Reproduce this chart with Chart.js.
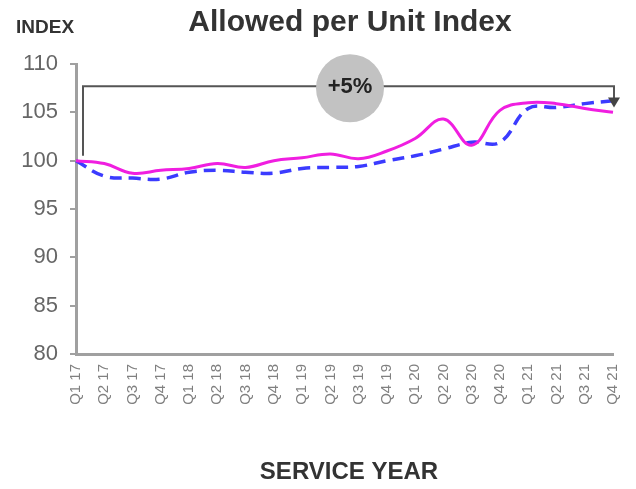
<!DOCTYPE html>
<html>
<head>
<meta charset="utf-8">
<script src="https://cdn.jsdelivr.net/npm/chart.js@4.4.0/dist/chart.umd.min.js"></script>
<style>
  body { margin: 0; background: #fff; }
  #wrap { width: 636px; height: 489px; }
</style>
</head>
<body>
<div id="wrap"><canvas id="myChart" width="636" height="489"></canvas></div>
<script>
const quarters = [
  'Q1 17', 'Q2 17', 'Q3 17', 'Q4 17',
  'Q1 18', 'Q2 18', 'Q3 18', 'Q4 18',
  'Q1 19', 'Q2 19', 'Q3 19', 'Q4 19',
  'Q1 20', 'Q2 20', 'Q3 20', 'Q4 20',
  'Q1 21', 'Q2 21', 'Q3 21', 'Q4 21'
]
const indexSolid = [100.0, 99.7, 98.7, 99.0, 99.2, 99.7, 99.3, 100.0, 100.3, 100.7,
  100.2, 101.0, 102.3, 104.3, 101.6, 105.2, 106.0, 105.9, 105.4, 105.0]
const indexDashed = [100.0, 98.4, 98.2, 98.1, 98.8, 99.0, 98.8, 98.7, 99.2, 99.3,
  99.4, 100.0, 100.5, 101.2, 101.9, 101.9, 105.4, 105.5, 105.9, 106.2]
const yTicks = [80, 85, 90, 95, 100, 105, 110]

// bracket annotation, in index units
const bracketTop = 107.7
const bracketStart = 100.5
const bracketEnd = 105.5
const bracketLabel = '+5%'

const FONT = "'Liberation Sans', Arial, sans-serif"

const extras = {
  id: 'extras',
  afterDraw(chart) {
    const c = chart.ctx
    const xs = chart.scales.x
    const ys = chart.scales.y
    c.save()

    // titles
    c.fillStyle = '#333'
    c.textBaseline = 'middle'
    c.textAlign = 'center'
    c.font = 'bold 30px ' + FONT
    c.fillText('Allowed per Unit Index', 350, 23)
    c.font = 'bold 24px ' + FONT
    c.fillText('SERVICE YEAR', 349, 472)
    c.textAlign = 'left'
    c.font = 'bold 19px ' + FONT
    c.fillText('INDEX', 16, 28)

    // bracket with arrow
    const x0 = xs.getPixelForValue(0) + 7
    const x1 = xs.getPixelForValue(quarters.length - 1) + 1
    const yTop = ys.getPixelForValue(bracketTop)
    const yA = ys.getPixelForValue(bracketStart)
    const yB = ys.getPixelForValue(bracketEnd)
    c.strokeStyle = '#555'
    c.lineWidth = 2
    c.beginPath()
    c.moveTo(x0, yA)
    c.lineTo(x0, yTop)
    c.lineTo(x1, yTop)
    c.lineTo(x1, yB - 8)
    c.stroke()
    c.fillStyle = '#444'
    c.beginPath()
    c.moveTo(x1 - 6, yB - 10)
    c.lineTo(x1 + 6, yB - 10)
    c.lineTo(x1, yB)
    c.closePath()
    c.fill()

    // circle label
    const cx = 350
    c.fillStyle = '#c2c2c2'
    c.beginPath()
    c.arc(cx, yTop + 2, 34, 0, Math.PI * 2)
    c.fill()
    c.fillStyle = '#222'
    c.textAlign = 'center'
    c.font = 'bold 22px ' + FONT
    c.fillText(bracketLabel, cx, yTop + 1)
    c.restore()
  }
}

const ctx = document.getElementById('myChart')
const chart = new Chart(ctx, {
  type: 'line',
  data: {
    labels: quarters,
    datasets: [{
      label: 'Allowed per unit',
      data: indexSolid,
      borderColor: '#f01ee0',
      borderWidth: 3,
      pointRadius: 0,
      tension: 0.4,
      clip: false
    }, {
      label: 'Adjusted',
      data: indexDashed,
      borderColor: '#3b3bff',
      borderWidth: 3.5,
      borderDash: [12, 7],
      pointRadius: 0,
      tension: 0.4,
      clip: false
    }]
  },
  options: {
    responsive: false,
    animation: false,
    layout: { padding: { top: 64, right: 23, left: 0, bottom: 0 } },
    plugins: {
      legend: { display: false },
      tooltip: { enabled: false },
      title: { display: false }
    },
    scales: {
      x: {
        offset: false,
        grid: { display: false, drawTicks: false },
        border: { color: '#a0a0a0', width: 3 },
        ticks: {
          autoSkip: false,
          minRotation: 90,
          maxRotation: 90,
          padding: 10,
          color: '#808080',
          font: { family: FONT, size: 15 }
        },
        afterFit(scale) {
          scale.height = 135
          scale.paddingLeft = 0
          scale.paddingRight = 0
        }
      },
      y: {
        min: 80,
        max: 110,
        afterBuildTicks(scale) { scale.ticks = yTicks.map(v => ({ value: v })) },
        grid: { drawOnChartArea: false, drawTicks: true, tickLength: 6, color: '#a0a0a0', lineWidth: 2 },
        border: { color: '#a0a0a0', width: 3 },
        ticks: {
          padding: 12,
          color: '#666',
          font: { family: FONT, size: 22 }
        },
        afterFit(scale) { scale.width = 76 }
      }
    }
  },
  plugins: [extras]
})
</script>
</body>
</html>
